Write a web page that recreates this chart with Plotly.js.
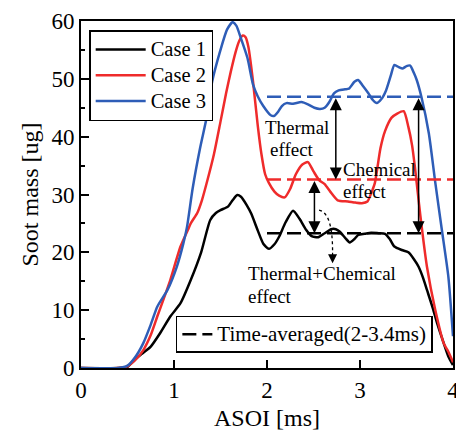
<!DOCTYPE html>
<html><head><meta charset="utf-8">
<script src="https://cdn.plot.ly/plotly-3.0.1.min.js"></script>
<style>html,body{margin:0;padding:0;background:#fff}#c{width:456px;height:433px}</style>
</head><body><div id="c"></div>
<script>
// Case 1 (black)
const x1 = [0,0.4,0.5,0.56,0.65,0.75,0.85,0.96,1.07,1.18,1.29,1.39,1.45,1.5,1.58,1.63,1.68,1.72,1.78,1.83,1.9,1.96,2.02,2.08,2.13,2.2,2.28,2.35,2.42,2.48,2.55,2.62,2.69,2.74,2.78,2.84,2.89,2.94,2.98,3.05,3.12,3.2,3.27,3.32,3.37,3.45,3.52,3.58,3.63,3.68,3.72,3.78,3.83,3.9,3.95,4.0];
const y1 = [0,0,0.2,1.2,2.4,3.7,6,8.9,11.2,15.2,19.9,25.6,26.8,27.3,27.9,29,29.9,29.6,28.2,26.7,23.8,21.5,20.6,21.4,22.7,25.2,27.2,25.8,23.9,22.8,22.6,23.3,24,24,23.6,22.5,21.7,22.3,23,23.2,23.4,23.3,23.2,22.3,21,20.4,20,18.8,17.5,15.5,13.5,10.5,7.7,4.3,2,0.5];
// Case 2 (red)
const x2 = [0,0.4,0.5,0.58,0.67,0.75,0.82,0.89,0.96,1.07,1.15,1.18,1.25,1.3,1.36,1.43,1.5,1.56,1.61,1.66,1.7,1.74,1.77,1.8,1.85,1.9,1.94,1.98,2.02,2.08,2.13,2.19,2.25,2.31,2.38,2.44,2.5,2.56,2.62,2.68,2.76,2.87,2.95,3.02,3.08,3.12,3.16,3.22,3.27,3.34,3.4,3.47,3.52,3.56,3.59,3.62,3.65,3.72,3.81,3.9,3.95,4.0];
const y2 = [0,0,0.3,1.3,3.1,5.7,8.9,12,15.2,21,23.9,25,26.8,29,32.5,37,42.6,47.5,51.2,54.5,56.5,57.5,57.2,55.5,49.5,42,37,33.5,32,30.5,29.8,29.5,31,33.5,35.2,35.6,34,32.5,31.8,30.5,29,28.8,28.6,28.5,28.8,30.2,32,38,41,43.3,44,44.4,41.7,38.5,34.8,30.5,26.2,17.5,10,4.3,2.8,1];
// Case 3 (blue)
const x3 = [0,0.4,0.5,0.58,0.67,0.75,0.82,0.93,1.03,1.1,1.14,1.2,1.28,1.36,1.41,1.5,1.57,1.63,1.67,1.72,1.79,1.85,1.9,1.96,2.04,2.08,2.12,2.16,2.21,2.28,2.37,2.44,2.51,2.57,2.62,2.67,2.72,2.77,2.84,2.88,2.94,2.98,3.03,3.09,3.14,3.18,3.23,3.28,3.33,3.37,3.42,3.46,3.5,3.54,3.58,3.61,3.66,3.74,3.81,3.88,3.95,4.0];
const y3 = [0,0,0.4,1.8,4.3,7.5,10.6,13.5,17.5,21.5,24.4,31,38,44,49.5,55,58.5,59.8,59.2,57,53.6,49,47,45.3,43.7,43.6,44.3,45.3,45.8,45.7,46,45.6,45,44.8,45,46,47.5,48,48.2,48.3,49.5,49.8,48.8,47.5,46.3,45.8,46.5,48,50.5,52.4,52,51.8,52.2,52.3,51,49.8,46.9,40.6,32,23.9,15.8,5.5];
// Time-averaged values (2-3.4 ms), drawn from 2 to 4 ms
const avgX = [2, 4];
const avg1 = 23.3, avg2 = 32.6, avg3 = 46.9;
const names = ['Case 1','Case 2','Case 3'];
const avgName = 'Time-averaged(2-3.4ms)';

const cBlack = '#000000', cRed = '#ef2b2b', cBlue = '#2e5db7';
const F = '"Liberation Serif"';
const lw = 2.5;
const big = (t, s) => '<span style="font-size:' + s + 'px">' + t + '</span>';

const traces = [
  {x:x1,y:y1,name:big(names[0],20.5),mode:'lines',line:{color:cBlack,width:lw,shape:'spline',smoothing:0.6}},
  {x:x2,y:y2,name:big(names[1],20.5),mode:'lines',line:{color:cRed,width:lw,shape:'spline',smoothing:0.6}},
  {x:x3,y:y3,name:big(names[2],20.5),mode:'lines',line:{color:cBlue,width:lw,shape:'spline',smoothing:0.6}},
  {x:avgX,y:[avg3,avg3],mode:'lines',showlegend:false,line:{color:cBlue,width:2.5,dash:'14px,6px'}},
  {x:avgX,y:[avg2,avg2],mode:'lines',showlegend:false,line:{color:cRed,width:2.5,dash:'14px,6px'}},
  {x:avgX,y:[avg1,avg1],mode:'lines',name:big(avgName,21),legend:'legend2',line:{color:cBlack,width:2.5,dash:'14px,6px'}}
];

function dArrow(x, ya, yb){
  return {x:x,y:yb,ax:x,ay:ya,xref:'x',yref:'y',axref:'x',ayref:'y',text:'',showarrow:true,
    arrowhead:2,startarrowhead:2,arrowside:'end+start',arrowsize:1.6,startarrowsize:1.6,arrowwidth:1.5,arrowcolor:'#000'};
}
function label(t,x,y){
  return {x:x,y:y,xref:'x',yref:'y',text:t,showarrow:false,xanchor:'left',yanchor:'middle',font:{family:F,size:19,color:'#000'}};
}
const annotations = [
  dArrow(2.74, avg3, avg2),
  dArrow(3.63, avg3, avg1),
  dArrow(2.51, avg2, avg1),
  {x:2.705,y:18.1,ax:2.705,ay:20.2,xref:'x',yref:'y',axref:'x',ayref:'y',text:'',showarrow:true,arrowhead:2,arrowsize:1.5,arrowwidth:1.2,arrowcolor:'#000'},
  label('Thermal',1.96,41.6),
  label('effect',2.01,37.8),
  label('Chemical',2.80,34.4),
  label('effect',2.80,30.6),
  label('Thermal+Chemical',1.77,16.3),
  label('effect',1.77,12.4)
];

const layout = {
  width:456,height:433,
  margin:{l:81,r:3,t:21,b:65},
  paper_bgcolor:'#fff',plot_bgcolor:'#fff',
  font:{family:F,color:'#000',size:23},
  showlegend:true,
  xaxis:{range:[0,4],dtick:1,tick0:0,ticks:'inside',ticklen:8,tickwidth:2,tickcolor:'#000',ticklabeloverflow:'allow',
    showline:true,linewidth:2,linecolor:'#000',mirror:true,showgrid:false,zeroline:false,
    tickfont:{family:F,size:23},title:{text:'ASOI [ms]',font:{family:F,size:24},standoff:8}},
  yaxis:{range:[0,60],dtick:10,tick0:0,ticks:'inside',ticklen:8,tickwidth:2,tickcolor:'#000',
    minor:{dtick:5,ticks:'inside',ticklen:4,tickwidth:2,tickcolor:'#000'},
    showline:true,linewidth:2,linecolor:'#000',mirror:true,showgrid:false,zeroline:false,
    tickfont:{family:F,size:23},title:{text:'Soot mass [ug]',font:{family:F,size:24},standoff:6}},
  legend:{x:0.022,y:0.974,xanchor:'left',yanchor:'top',bgcolor:'#fff',bordercolor:'#000',borderwidth:1.5,
    font:{family:F,size:17.5},itemwidth:50,tracegroupgap:0},
  legend2:{x:0.255,y:0.15,xanchor:'left',yanchor:'top',bgcolor:'#fff',bordercolor:'#000',borderwidth:1.5,
    font:{family:F,size:16},itemwidth:30},
  shapes:[{type:'path',xref:'x',yref:'y',path:'M 2.56,27.3 Q 2.705,26.8 2.705,20.2',
    line:{color:'#000',width:1.3,dash:'dot'}}],
  annotations:annotations
};
Plotly.newPlot('c',traces,layout,{staticPlot:true,displayModeBar:false});
</script></body></html>
